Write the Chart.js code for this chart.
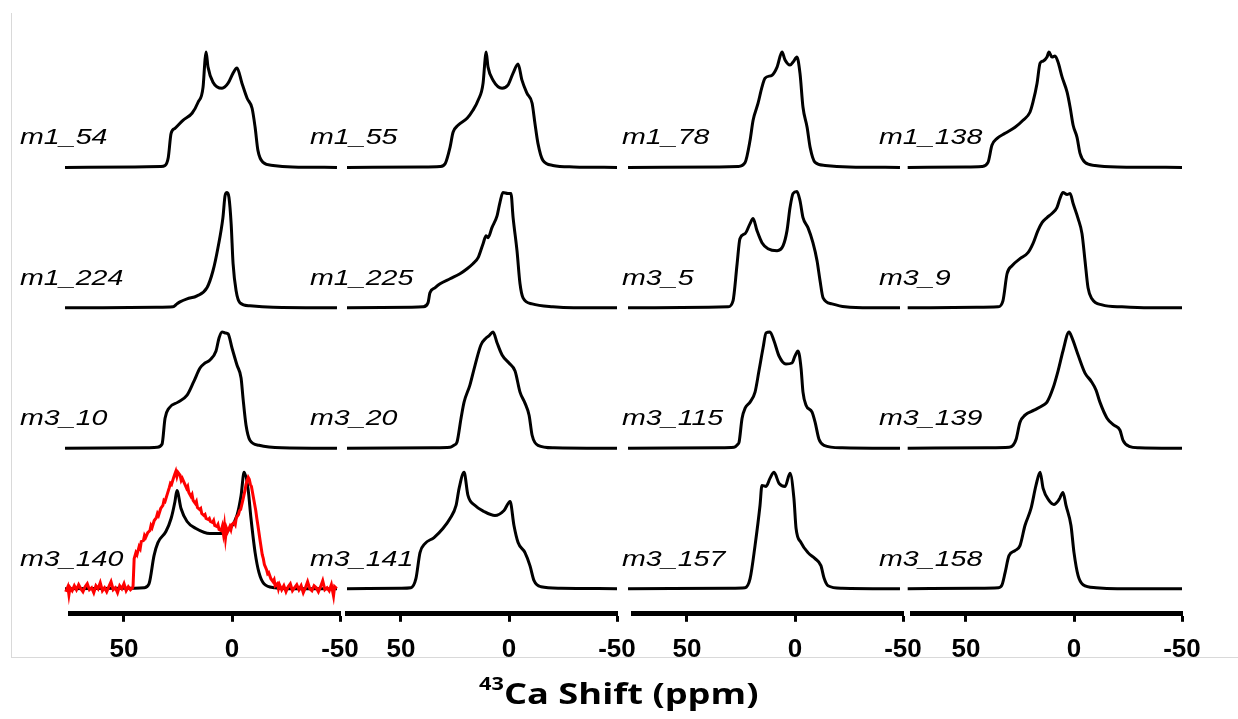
<!DOCTYPE html>
<html>
<head>
<meta charset="utf-8">
<script src="https://cdn.jsdelivr.net/npm/chart.js@4.4.1/dist/chart.umd.min.js"></script>
<style>
html, body { margin: 0; padding: 0; background: #fff; }
body { width: 1238px; height: 719px; position: relative; overflow: hidden; }
#frame { position: absolute; left: 11px; top: 13px; width: 1240px; height: 644px;
  border-left: 1px solid #d9d9d9; border-bottom: 1px solid #d9d9d9; }
canvas { position: absolute; top: 0; }
#title { position: absolute; left: 0; top: 678px; width: 1238px; text-align: center;
  font: bold 29px "Open Sans", sans-serif; line-height: 29px; color: #000; }
#title span.t { display: inline-block; transform: scaleX(1.25); }
#title sup { font-size: 0.6em; position: relative; top: -0.15em; vertical-align: top; line-height: 1; }
</style>
</head>
<body>
<div id="frame"></div>
<canvas id="c0" width="370" height="719" style="left:10px"></canvas>
<canvas id="c1" width="370" height="719" style="left:287px"></canvas>
<canvas id="c2" width="370" height="719" style="left:573px"></canvas>
<canvas id="c3" width="370" height="719" style="left:852px"></canvas>
<div id="title"><span class="t"><sup>43</sup>Ca Shift (ppm)</span></div>
<script>
// tick labels on every x axis (ppm)
var xTicks = [50, 0, -50];

// sample names, column by column, top to bottom
var columnNames = [
  ['m1_54', 'm1_224', 'm3_10', 'm3_140'],
  ['m1_55', 'm1_225', 'm3_20', 'm3_141'],
  ['m1_78', 'm3_5', 'm3_115', 'm3_157'],
  ['m1_138', 'm3_9', 'm3_139', 'm3_158']
];

// simulated spectra: [shift ppm, intensity]
var m1_54 = [[77.3,0],[45,0.5],[33,1],[31,2],[29.5,10],[28.2,34],[26.4,39],[22.7,47],[18.5,54],[15.7,65],[13.4,80],[12.5,107],[12,115],[11.1,100],[8.8,85],[4.6,79],[1.8,84],[-0.5,94],[-2.3,99],[-4.6,84],[-7,69],[-9.3,59],[-10.7,40],[-12,17],[-14.4,5],[-19,2],[-28,0.5],[-48.6,0]];
var m1_224 = [[77.3,0],[35,0.5],[27.3,1],[25.5,4],[24.1,6],[20.8,9],[16.2,12],[11.6,20],[8.8,37],[6.5,60],[4.2,90],[3.2,112],[2.3,115],[1.4,110],[0.4,84],[-0.5,44],[-1.9,17],[-3.7,5],[-8.3,2],[-19,0.5],[-48.6,0]];
var m3_10 = [[77.3,0],[40,0.5],[34.7,1],[32.4,4],[31,30],[29.2,40],[25,46],[20.8,53],[17.6,67],[14.8,80],[12.5,85],[10.2,88],[7.4,97],[6,110],[4.6,116],[3.2,115],[1.8,114],[0,100],[-2.3,83],[-4.2,70],[-5.1,50],[-6.5,23],[-8.3,8],[-12.5,3],[-23,0.5],[-48.6,0]];
var m3_140 = [[77.3,0],[45,0.5],[40.7,1],[38.4,5],[36.1,33],[34.3,46],[30.6,57],[28.2,70],[26.4,87],[25.5,98],[23.6,80],[20.8,67],[16.7,60],[10.2,55],[5.1,55],[0.9,60],[-2.3,73],[-4.2,93],[-5.6,116],[-7.4,100],[-8.8,70],[-10.7,36],[-12.5,16],[-14.8,5],[-19.9,1],[-28,0],[-48.6,0]];

var m1_55 = [[75,0],[40,0.5],[31.9,1],[29.5,4],[27.3,20],[25.9,35],[23.6,42],[19.4,49],[16.7,57],[14.3,67],[12,84],[11.1,107],[10.6,115],[9.7,100],[7.4,87],[3.2,79],[0.5,82],[-1.9,94],[-4.2,103],[-6,87],[-8.3,74],[-10.7,64],[-12,44],[-13.4,24],[-15.7,7],[-20.3,2],[-30,0.5],[-50,0]];
var m1_225 = [[75,0],[45,0.5],[39.8,1],[37.5,5],[36.6,15],[34.3,20],[31.9,24],[27.3,29],[22.7,34],[19.4,39],[16.7,44],[14.3,50],[12,64],[10.6,72],[9.7,70],[7.9,80],[5.5,92],[4.2,105],[2.8,115],[0.5,114],[-0.9,114],[-1.9,90],[-3.7,57],[-5.1,24],[-6.5,10],[-10.7,4],[-20.3,1],[-30,0],[-50,0]];
var m3_20 = [[75,0],[35,0.5],[27.3,1],[25.5,3],[24.1,6],[22.2,30],[20.8,46],[18.1,63],[15.7,83],[13,103],[10.6,110],[9.3,112],[7.4,116],[5.5,105],[3.2,93],[0,85],[-2.8,77],[-5.1,56],[-7.4,45],[-9.3,33],[-10.7,13],[-13.4,3],[-20.8,0.5],[-50,0]];
var m3_141 = [[75,0],[50,0.5],[45.4,1],[43.1,10],[41.2,36],[38.9,45],[34.7,51],[30.6,60],[27.3,70],[24.5,83],[23.1,100],[20.8,116],[19,93],[15.7,83],[11.6,77],[6.5,73],[2.3,78],[-0.5,87],[-2.3,63],[-4.2,46],[-7.4,36],[-9.7,23],[-11.6,8],[-14.8,2],[-24,0.5],[-50,0]];

var m1_78 = [[77.3,0],[35,0.5],[26.4,1],[23.1,5],[20.8,27],[19.4,47],[17.1,64],[15.3,80],[13.9,89],[10.6,92],[8.3,100],[6,115],[4.6,107],[2.3,102],[0.9,105],[-0.9,110],[-2.3,94],[-3.7,60],[-5.6,40],[-7,20],[-9.3,5],[-13.9,2],[-25,0.5],[-48.6,0]];
var m3_5 = [[77.3,0],[40,0.5],[31,1],[28.7,7],[26.8,44],[25.5,69],[23.1,74],[20.8,84],[19.4,89],[17.6,77],[15.3,65],[12.5,59],[8.3,57],[5.5,62],[3.7,77],[2.3,100],[0.9,114],[-0.9,116],[-2.3,107],[-3.7,90],[-6,80],[-8.3,65],[-10.2,47],[-11.6,27],[-13,10],[-17.1,4],[-23.2,1],[-35,0],[-48.6,0]];
var m3_115 = [[77.3,0],[35,0.5],[28.2,1],[26.5,4],[25.9,6],[24.5,30],[23.1,40],[20.8,46],[18.5,56],[16.7,77],[14.8,100],[13.4,115],[11.6,116],[9.7,107],[7.4,92],[4.2,84],[1.4,85],[0,92],[-1.4,97],[-2.8,80],[-3.7,56],[-5.1,43],[-7.9,36],[-9.3,26],[-11.1,9],[-13.4,3],[-21.8,0.5],[-48.6,0]];
var m3_157 = [[77.3,0],[30,0.5],[23.1,1],[20.8,10],[18.5,43],[16.2,83],[15.3,103],[13.4,102],[11.6,110],[9.7,116],[7.4,105],[4.6,102],[2.3,115],[0.5,90],[-0.5,60],[-2.8,46],[-6,36],[-9.3,30],[-12,23],[-13.4,11],[-15.3,3],[-21.8,0.5],[-48.6,0]];

var m1_138 = [[77,0],[50,0.5],[42.6,1],[39.8,5],[38,22],[35.6,29],[31.9,34],[27.3,40],[23.6,47],[20.4,55],[19,65],[17.1,84],[15.7,104],[14.3,106],[12.5,110],[11.6,115],[10.2,110],[8.8,111],[7.4,105],[5.5,90],[3.2,75],[1.8,60],[0.4,42],[-1.4,30],[-2.8,14],[-5.1,5],[-9.7,2],[-20,0.5],[-50,0]];
var m3_9 = [[77,0],[45,0.5],[35.2,1],[32.9,7],[31,34],[28.7,42],[25,49],[21.3,55],[19,64],[16.7,77],[14.8,85],[12.5,90],[10.2,94],[7.9,100],[6.5,109],[5.1,115],[3.2,113],[1.8,114],[0.4,104],[-1.9,89],[-3.7,74],[-5.1,47],[-6.5,20],[-8.3,9],[-13,3],[-22.2,1],[-35,0],[-50,0]];
var m3_139 = [[77,0],[40,0.5],[30,1],[28.2,3],[26.8,9],[25,26],[22.7,33],[18.5,38],[14.3,43],[12.5,46],[9.7,60],[7.4,77],[5.1,97],[2.3,116],[0.9,110],[-1.9,93],[-5.1,75],[-7.9,67],[-10.2,58],[-12,46],[-15.3,30],[-18.5,23],[-21.3,18],[-22.7,8],[-25.5,2],[-30.1,0.5],[-50,0]];
var m3_158 = [[77,0],[45,0.5],[35,1],[33.3,4],[31.9,16],[30.1,33],[27.3,38],[25,43],[22.7,63],[19.9,80],[17.6,103],[15.7,116],[14.3,100],[11.6,88],[9.3,84],[6.9,89],[5.1,96],[3.7,83],[1.4,63],[0,36],[-1.9,13],[-4.2,4],[-10.2,1],[-20,0],[-50,0]];

// experimental spectrum of m3_140 (red)
var m3_140_exp = [[77,-3],[76,2],[75.5,-6],[75,1],[74,-2],[73,3],[72,-1],[71,4],[70,0],[69,-3],[68,2],[67,5],[66,-1],[65,1],[64,-4],[63,3],[62,0],[61,6],[60,-2],[59,1],[58,-3],[57,2],[56,7],[55,-1],[54,1],[53,-4],[52,3],[51,0],[50,5],[49,-2],[48,2],[47,-1],[46,1],[45.8,3],
  [45.3,30],[44.5,36],[44,34],[43,42],[42.5,40],[42,47],[41,48],[40.5,53],[40,51],[39,56],[38,58],[37.5,63],[37,61],[36,68],[35,71],[34.5,75],[34,73],[33,80],[32,83],[31.5,88],[31,87],[30,94],[29,101],[28.5,105],[28,104],[27,111],[26.5,114],[26,117],[25.5,112],[25,116],[24,113],[23.5,108],[23,110],[22,105],[21,100],[20.5,102],[20,96],[19,92],[18.5,94],[18,88],[17,85],[16.5,87],[16,81],[15,79],[14.5,80],[14,75],[13,73],[12.5,74],[12,70],[11,69],[10.5,70],[10,67],[9,66],[8.5,68],[8,63],[7,62],[6.5,64],[6,59],[5,58],[4.5,62],[4,55],[3.5,63],[3,51],[2.5,60],[2,57],[1,62],[0.5,59],[0,64],[-1,66],[-1.5,64],[-2,71],[-3,74],[-3.5,78],[-4,79],[-5,88],[-6,98],[-6.5,104],[-7,108],[-7.5,111],[-8,109],[-8.5,104],[-9,102],[-10,90],[-11,78],[-11.5,70],[-12,63],[-13,48],[-14,34],[-14.5,30],[-15,24],[-16,19],[-16.5,15],[-17,16],[-18,10],[-19,7],[-19.5,9],[-20,3],[-21,5],[-21.5,0],[-22,4],[-23,-1],[-24,3],[-25,-3],[-26,2],[-27,5],[-28,-2],[-29,1],[-30,4],[-31,-1],[-32,3],[-33,-4],[-34,1],[-35,7],[-36,0],[-37,-2],[-38,3],[-39,1],[-40,-3],[-41,2],[-42,8],[-43,-1],[-44,1],[-45,-2],[-46,4],[-47,-7],[-47.5,2],[-48.5,0]];

var columnSpectra = [
  [m1_54, m1_224, m3_10, m3_140],
  [m1_55, m1_225, m3_20, m3_141],
  [m1_78, m3_5, m3_115, m3_157],
  [m1_138, m3_9, m3_139, m3_158]
];

// vertical offset of each row (stacked spectra), and label shift per column
var rowOffsets = [420, 280, 140, 0];
var labelDx = [-50, -37, -11, -33];

var cellLabels = {
  id: 'cellLabels',
  afterDatasetsDraw: function (chart, args, opts) {
    var ctx = chart.ctx;
    var y = chart.scales.y;
    ctx.save();
    ctx.font = 'italic 22px "Liberation Sans", Arial, sans-serif';
    ctx.fillStyle = '#000';
    opts.names.forEach(function (name, r) {
      var px = chart.chartArea.left + opts.dx;
      var py = y.getPixelForValue(rowOffsets[r]) - 23;
      ctx.save();
      ctx.translate(px, py);
      ctx.scale(1.3, 1);
      ctx.fillText(name, 0, 0);
      ctx.restore();
    });
    ctx.restore();
  }
};

for (var c = 0; c < 4; c++) {
  var datasets = columnSpectra[c].map(function (spec, r) {
    return {
      data: spec.map(function (p) { return { x: p[0], y: p[1] + rowOffsets[r] }; }),
      borderColor: '#000',
      borderWidth: 3,
      pointRadius: 0,
      cubicInterpolationMode: 'monotone',
      clip: false,
      order: 1
    };
  });
  if (c === 0) {
    datasets.push({
      data: m3_140_exp.map(function (p) { return { x: p[0], y: p[1] }; }),
      borderColor: '#ff0000',
      borderWidth: 3,
      pointRadius: 0,
      tension: 0,
      clip: false,
      order: 0
    });
  }
  new Chart(document.getElementById('c' + c), {
    type: 'line',
    data: { datasets: datasets },
    plugins: [cellLabels],
    options: {
      responsive: false,
      animation: false,
      layout: { padding: { left: 60, right: 40, top: 30, bottom: 42 } },
      plugins: {
        legend: { display: false },
        tooltip: { enabled: false },
        cellLabels: { names: columnNames[c], dx: labelDx[c] }
      },
      scales: {
        x: {
          type: 'linear',
          reverse: true,
          min: -50,
          max: 75,
          afterBuildTicks: function (s) { s.ticks = xTicks.map(function (v) { return { value: v }; }); },
          border: { display: true, width: 5, color: '#000' },
          grid: { drawOnChartArea: false, drawTicks: true, tickLength: 8, tickWidth: 3, color: '#000' },
          ticks: {
            color: '#000',
            padding: 12,
            maxRotation: 0,
            autoSkip: false,
            font: { family: '"Liberation Sans", Arial, sans-serif', size: 26, weight: 'bold' }
          }
        },
        y: { display: false, min: -25, max: 557 }
      }
    }
  });
}
</script>
</body>
</html>
